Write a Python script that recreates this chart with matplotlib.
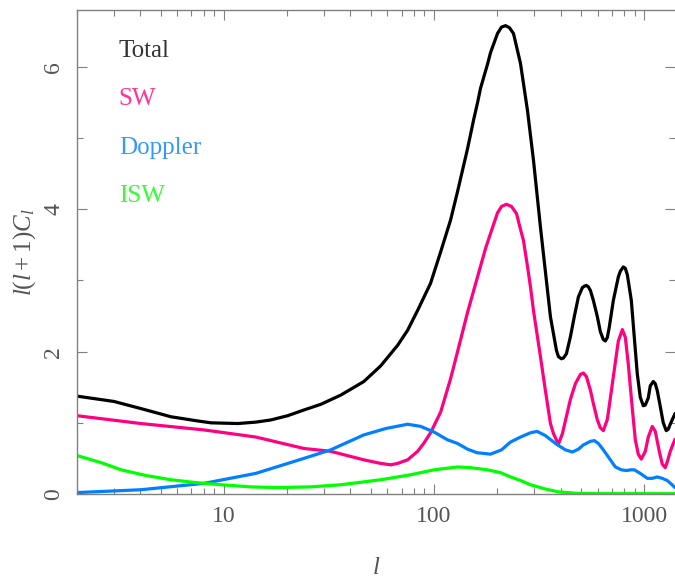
import matplotlib
matplotlib.use("Agg")
import matplotlib.pyplot as plt
from matplotlib.ticker import FixedLocator, LogLocator, NullFormatter

plt.rcParams['font.family'] = ['Liberation Serif', 'DejaVu Serif']
plt.rcParams['mathtext.fontset'] = 'custom'
plt.rcParams['mathtext.rm'] = 'Liberation Serif'
plt.rcParams['mathtext.it'] = 'Liberation Serif:italic'

# values (l, l(l+1)C_l)
total_l = [2, 3, 4.03, 5.6, 7.36, 8.68, 11.65, 14.2, 16.7, 20.1, 24, 28.9, 36, 46.3, 55.7,
           67.1, 74.8, 83.5, 96.2, 107.4, 119.8, 129.3, 144.2, 154, 161, 166.3, 180, 185.5,
           200.3, 209.3, 218.7, 228.5, 238.6, 257.6, 278.1, 297, 320.6, 338.6, 357.7, 381.9,
           390.4, 403.4, 412.3, 426.1, 445.2, 465.1, 486, 507.7, 518.8, 530.4, 542, 554.1,
           572.5, 598.1, 618, 638.6, 652.8, 667.3, 682, 712.5, 752.6, 769.2, 794.9, 812.6,
           830.5, 867.6, 896.4, 926.1, 956.9, 988.9, 1011, 1044.8, 1067.9, 1103.7, 1127.8,
           1153.1, 1191.3, 1231, 1271.8, 1300, 1329, 1400]
total_v = [1.375, 1.30, 1.20, 1.085, 1.03, 1.00, 0.99, 1.01, 1.04, 1.10, 1.18, 1.26, 1.39,
           1.58, 1.80, 2.09, 2.30, 2.58, 2.96, 3.40, 3.85, 4.25, 4.85, 5.25, 5.50, 5.70, 6.05,
           6.20, 6.47, 6.56, 6.58, 6.55, 6.47, 6.05, 5.39, 4.69, 3.75, 3.12, 2.49, 2.02, 1.93,
           1.90, 1.91, 1.97, 2.21, 2.50, 2.77, 2.90, 2.92, 2.93, 2.91, 2.86, 2.72, 2.49, 2.28,
           2.17, 2.15, 2.20, 2.35, 2.72, 3.05, 3.13, 3.19, 3.17, 3.08, 2.72, 2.20, 1.69, 1.36,
           1.24, 1.25, 1.35, 1.52, 1.58, 1.55, 1.45, 1.23, 1.00, 0.89, 0.91, 0.98, 1.13]

sw_l = [2, 4.03, 8.06, 14.2, 24, 32.2, 46.3, 55.7, 62.1, 67.1, 74.8, 83.5, 89.2, 96.2, 107.4,
        119.8, 129.3, 144.2, 154, 166.3, 175.7, 185.5, 200.3, 209.3, 220.8, 233.4, 246.6,
        257.6, 266.2, 278.1, 287.4, 297, 306.9, 320.6, 338.6, 357.7, 369.6, 390.4, 407.9,
        426.1, 445.2, 470.1, 496.6, 513.2, 530.4, 554.1, 572.5, 598.1, 618, 638.6, 667.3,
        697.3, 728.2, 752.6, 786.3, 812.6, 839.5, 877, 906.4, 936.4, 967.6, 1011, 1044.8,
        1091.5, 1127.8, 1178.4, 1217.7, 1258.4, 1286, 1329, 1400]
sw_v = [1.10, 0.99, 0.90, 0.80, 0.64, 0.60, 0.48, 0.43, 0.41, 0.43, 0.48, 0.60, 0.71, 0.86,
        1.15, 1.62, 2.00, 2.55, 2.85, 3.20, 3.45, 3.66, 3.95, 4.04, 4.07, 4.04, 3.94, 3.72,
        3.56, 3.20, 2.91, 2.58, 2.30, 1.93, 1.45, 0.99, 0.85, 0.70, 0.85, 1.09, 1.33, 1.55,
        1.68, 1.70, 1.65, 1.46, 1.27, 1.04, 0.93, 0.89, 1.05, 1.45, 1.85, 2.15, 2.31, 2.20,
        1.82, 1.20, 0.76, 0.56, 0.49, 0.60, 0.80, 0.95, 0.88, 0.60, 0.42, 0.37, 0.45, 0.60,
        0.77]

dop_l = [2, 4.03, 8.06, 14.2, 24, 32.2, 46.3, 58.9, 74.8, 86.3, 100, 116, 129.3, 144.2, 160,
         185.5, 209.3, 231, 257.6, 287.4, 309, 338.6, 381.9, 421.5, 455, 486, 513.2, 554.1,
         578.7, 604.7, 638.6, 682, 728.2, 777.8, 821.4, 867.6, 896.4, 956.9, 1033.5, 1091.5,
         1153.1, 1217.7, 1286, 1344, 1400]
dop_v = [0.02, 0.06, 0.15, 0.29, 0.50, 0.62, 0.83, 0.92, 0.98, 0.95, 0.87, 0.76, 0.71, 0.63,
         0.58, 0.56, 0.62, 0.73, 0.80, 0.86, 0.88, 0.82, 0.70, 0.62, 0.59, 0.63, 0.69, 0.74,
         0.75, 0.71, 0.62, 0.50, 0.38, 0.34, 0.33, 0.34, 0.34, 0.29, 0.22, 0.22, 0.24, 0.22,
         0.19, 0.14, 0.09]

isw_l = [2, 2.61, 3.24, 4.26, 5.6, 7.36, 9.7, 13.4, 18, 25.9, 36, 55.7, 77.3, 100, 129.3,
         149, 179, 207, 231, 257.6, 287.4, 338.6, 390, 475, 618, 1400]
isw_v = [0.54, 0.44, 0.34, 0.26, 0.20, 0.16, 0.13, 0.10, 0.09, 0.10, 0.13, 0.20, 0.27, 0.34,
         0.38, 0.37, 0.34, 0.30, 0.24, 0.19, 0.13, 0.07, 0.03, 0.01, 0.005, 0.005]

names = ['Total', 'SW', 'Doppler', 'ISW']
line_colors = ['#000000', '#ff0080', '#0080ff', '#00ff00']
text_colors = ['#333333', '#ff3399', '#3399ff', '#33ff33']

fig = plt.figure(figsize=(6.75, 5.79), dpi=100)
ax = fig.add_axes([77/675, 85/579, 598/675, 484/579])

for (xs, ys), c in zip([(total_l, total_v), (sw_l, sw_v), (dop_l, dop_v), (isw_l, isw_v)], line_colors):
    ax.plot(xs, ys, color=c, lw=2.3, solid_capstyle='round', solid_joinstyle='round')

ax.set_xscale('log')
ax.set_xlim(2, 1400)
ax.set_ylim(0, 6.8)

ax.xaxis.set_major_locator(FixedLocator([10, 100, 1000]))
ax.set_xticklabels(['10', '100', '1000'])
ax.xaxis.set_minor_locator(LogLocator(base=10, subs=range(2, 10)))
ax.xaxis.set_minor_formatter(NullFormatter())
ax.set_yticks([0, 2, 4, 6])
ax.set_yticklabels(['0', '2', '4', '6'])
ax.yaxis.set_minor_locator(FixedLocator([1, 3, 5]))

gray = '#808080'
for s in ax.spines.values():
    s.set_color(gray)
    s.set_linewidth(1.0)
ax.spines['right'].set_visible(False)

ax.tick_params(which='both', direction='in', top=True, right=True, color=gray, width=0.8,
               labelcolor='#555555', labelsize=17)
ax.tick_params(which='major', length=7.5)
ax.tick_params(which='minor', length=4)
ax.tick_params(axis='x', pad=9)
ax.tick_params(axis='y', pad=9, labelrotation=90)
for t in ax.get_yticklabels():
    t.set_va('center')

ax.set_xlabel('$l$', fontsize=18, color='#555555')
ax.xaxis.set_label_coords(0.5, -0.13)
ax.set_ylabel('$l(l+1)C_l$', fontsize=18, color='#555555')
ax.yaxis.set_label_coords(-0.065, 0.5)

for name, c, yy in zip(names, text_colors, [0.915, 0.816, 0.715, 0.616]):
    ax.text(0.07, yy, name, transform=ax.transAxes, color=c, fontsize=18, va='center', ha='left')

fig.savefig('out.png', dpi=100)
